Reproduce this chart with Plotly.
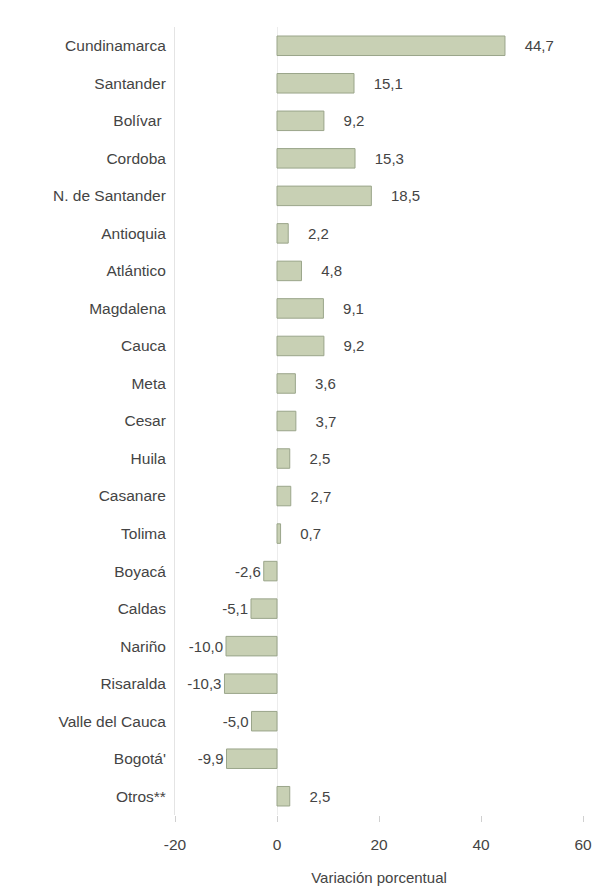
import plotly.graph_objects as go

categories = ["Cundinamarca", "Santander", "Bolívar ", "Cordoba", "N. de Santander",
              "Antioquia", "Atlántico", "Magdalena", "Cauca", "Meta", "Cesar", "Huila",
              "Casanare", "Tolima", "Boyacá", "Caldas", "Nariño", "Risaralda",
              "Valle del Cauca", "Bogotá'", "Otros**"]
values = [44.7, 15.1, 9.2, 15.3, 18.5, 2.2, 4.8, 9.1, 9.2, 3.6, 3.7, 2.5, 2.7, 0.7,
          -2.6, -5.1, -10.0, -10.3, -5.0, -9.9, 2.5]
tick_vals = [-20, 0, 20, 40, 60]
tick_text = ["-20", "0", "20", "40", "60"]

labels = [("    " if v > 0 else "") + f"{v:.1f}".replace(".", ",") for v in values]

fig = go.Figure(go.Bar(
    y=categories, x=values, orientation="h",
    marker=dict(color="#c8d0b4", line=dict(color="#9aa58a", width=1)),
    text=labels, textposition="outside",
    textfont=dict(family="Liberation Sans, Arial", size=15, color="#444444"),
    cliponaxis=False,
))

fig.update_layout(
    width=605, height=887,
    margin=dict(l=167, r=30, t=19, b=80),
    paper_bgcolor="white", plot_bgcolor="white",
    bargap=0.48,
    showlegend=False,
    font=dict(family="Liberation Sans, Arial", size=15, color="#444444"),
)
fig.update_yaxes(
    autorange="reversed", showgrid=False, zeroline=False, automargin=False,
    showline=True, linecolor="#e4e4e4", linewidth=1,
    ticks="", ticklabelstandoff=5,
    tickfont=dict(size=15.5, color="#444444"),
)
fig.update_xaxes(
    range=[-20, 60], tickvals=tick_vals, ticktext=tick_text, automargin=False,
    showgrid=False, zeroline=True, zerolinecolor="#ececec", zerolinewidth=1,
    showline=False, ticks="outside", ticklen=6, tickcolor="#d0d0d0",
    ticklabelstandoff=9,
    tickfont=dict(size=15.5, color="#444444"),
    title=dict(text="Variación porcentual", font=dict(size=15, color="#444444"), standoff=20),
)

fig.write_html("out.html")
